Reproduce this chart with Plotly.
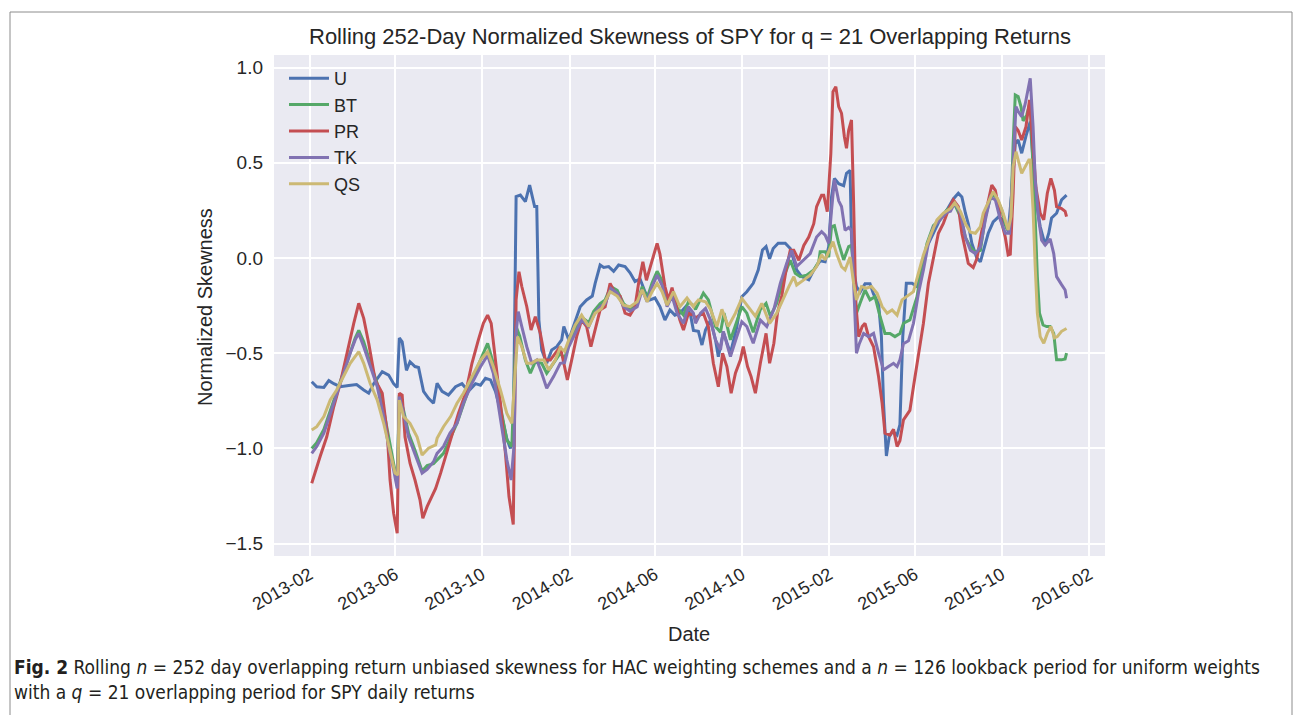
import pandas as pd
import plotly.graph_objects as go

BASE_DATE = "2013-02-01"
series_names = ["U", "BT", "PR", "TK", "QS"]

# day offsets from BASE_DATE and normalized skewness values
U_days = [3,10,20,27,34,43,55,66,76,83,90,102,111,118,123,126,130,136,141,148,153,160,167,174,179,186,195,205,214,223,233,240,247,254,261,268,277,282,286,290,296,303,309,312,316,319,322,326,333,340,347,354,357,364,373,380,389,397,401,408,413,420,427,434,443,450,457,464,471,478,485,492,499,506,513,520,528,535,539,546,551,556,563,570,574,581,591,600,607,614,623,630,636,641,646,651,658,668,675,684,691,701,708,717,724,729,733,737,743,750,754,759,761,764,768,773,780,787,792,799,803,806,810,814,819,825,829,833,838,846,853,860,867,876,885,895,904,911,916,921,925,930,937,942,946,953,960,967,974,981,986,991,995,1000,1006,1012,1016,1020,1026,1033,1038,1042,1049,1056,1063]
U_vals = [-0.65,-0.676,-0.68,-0.644,-0.66,-0.676,-0.67,-0.665,-0.693,-0.71,-0.66,-0.597,-0.615,-0.66,-0.68,-0.42,-0.44,-0.59,-0.545,-0.57,-0.575,-0.70,-0.737,-0.763,-0.658,-0.70,-0.72,-0.676,-0.66,-0.70,-0.66,-0.668,-0.632,-0.64,-0.70,-0.80,-0.95,-1.0,-0.95,0.322,0.33,0.296,0.383,0.34,0.27,0.27,-0.326,-0.483,-0.553,-0.483,-0.466,-0.43,-0.36,-0.43,-0.326,-0.256,-0.22,-0.20,-0.133,-0.037,-0.05,-0.045,-0.07,-0.037,-0.045,-0.078,-0.124,-0.11,-0.177,-0.22,-0.21,-0.256,-0.326,-0.273,-0.30,-0.29,-0.256,-0.30,-0.38,-0.385,-0.457,-0.378,-0.326,-0.43,-0.518,-0.39,-0.50,-0.361,-0.203,-0.177,-0.133,-0.063,0.042,0.06,-0.004,0.05,0.077,0.077,0.05,-0.063,-0.098,-0.115,-0.063,-0.015,-0.02,0.06,0.322,0.418,0.39,0.38,0.445,0.46,0.11,-0.063,-0.15,-0.18,-0.135,-0.135,-0.19,-0.238,-0.413,-0.763,-1.04,-0.938,-0.91,-0.93,-0.875,-0.413,-0.133,-0.133,-0.15,-0.063,0.06,0.13,0.2,0.252,0.31,0.34,0.32,0.235,0.18,0.077,0.0,-0.02,0.04,0.13,0.19,0.215,0.2,0.14,0.34,0.60,0.62,0.55,0.64,0.716,0.51,0.305,0.165,0.068,0.13,0.21,0.235,0.305,0.33]

BT_days = [3,10,20,29,38,48,57,64,69,76,85,95,104,111,118,123,126,132,139,148,158,165,174,188,207,228,240,250,258,268,277,284,290,295,303,310,317,326,333,343,352,358,364,373,382,392,399,408,415,423,432,441,450,460,467,474,481,488,495,502,509,516,525,532,539,542,546,553,560,570,577,582,591,600,607,614,623,633,641,647,656,666,675,682,689,698,708,715,717,724,729,733,737,743,750,757,761,764,768,773,780,787,794,801,808,815,822,829,834,843,853,860,867,876,885,895,900,906,914,921,928,935,942,949,958,965,972,979,984,988,991,995,999,1002,1007,1012,1016,1019,1022,1025,1030,1035,1040,1045,1049,1056,1061,1063]
BT_vals = [-1.00,-0.97,-0.90,-0.80,-0.70,-0.60,-0.49,-0.42,-0.38,-0.44,-0.55,-0.66,-0.80,-0.95,-1.08,-1.17,-0.72,-0.80,-0.92,-1.01,-1.12,-1.09,-1.08,-1.026,-0.868,-0.64,-0.536,-0.448,-0.553,-0.78,-0.956,-0.99,-0.36,-0.41,-0.536,-0.605,-0.545,-0.553,-0.605,-0.553,-0.50,-0.53,-0.45,-0.38,-0.31,-0.34,-0.28,-0.24,-0.22,-0.15,-0.17,-0.24,-0.27,-0.24,-0.15,-0.21,-0.13,-0.07,-0.12,-0.23,-0.18,-0.26,-0.30,-0.23,-0.25,-0.27,-0.238,-0.185,-0.22,-0.36,-0.39,-0.29,-0.43,-0.326,-0.256,-0.29,-0.39,-0.27,-0.238,-0.305,-0.238,-0.098,-0.012,-0.08,-0.098,-0.09,-0.063,-0.02,0.033,0.033,0.005,0.165,0.17,0.077,-0.01,0.06,0.067,-0.063,-0.29,-0.238,-0.168,-0.22,-0.203,-0.305,-0.396,-0.396,-0.413,-0.396,-0.343,-0.325,-0.203,-0.046,0.077,0.17,0.2,0.252,0.27,0.28,0.217,0.108,0.058,0.03,0.04,0.217,0.34,0.315,0.252,0.156,0.147,0.6,0.856,0.848,0.795,0.72,0.75,0.82,0.5,0.2,-0.098,-0.29,-0.352,-0.36,-0.36,-0.396,-0.535,-0.535,-0.53,-0.5]

PR_days = [3,8,15,24,34,43,52,62,69,76,83,92,102,109,113,118,123,126,130,134,141,148,155,159,165,174,177,184,191,200,209,219,228,237,244,250,255,261,268,275,280,286,290,294,298,305,311,317,324,331,338,347,352,357,362,368,375,382,389,395,401,408,415,422,429,436,443,450,457,462,468,473,477,483,488,492,499,504,509,515,520,525,532,539,542,546,553,560,567,574,580,586,592,598,605,609,615,620,626,633,641,646,652,657,663,670,675,680,687,694,701,708,712,719,722,727,732,735,739,743,747,751,754,757,761,764,767,771,776,780,785,792,799,804,808,815,820,825,829,834,843,848,855,862,869,876,883,890,897,904,911,916,921,925,932,937,944,951,958,963,970,977,981,984,988,991,995,1000,1006,1011,1016,1020,1026,1031,1036,1041,1046,1049,1056,1061,1063]
PR_vals = [-1.183,-1.12,-1.04,-0.94,-0.78,-0.658,-0.50,-0.343,-0.238,-0.317,-0.448,-0.64,-0.71,-0.92,-1.166,-1.34,-1.446,-0.71,-0.72,-0.94,-1.078,-1.166,-1.27,-1.367,-1.306,-1.236,-1.21,-1.13,-1.043,-0.94,-0.816,-0.71,-0.553,-0.43,-0.343,-0.30,-0.343,-0.536,-0.763,-1.026,-1.253,-1.40,-0.22,-0.072,-0.15,-0.256,-0.378,-0.308,-0.396,-0.536,-0.536,-0.49,-0.466,-0.553,-0.64,-0.536,-0.413,-0.326,-0.36,-0.466,-0.378,-0.273,-0.256,-0.133,-0.185,-0.20,-0.29,-0.30,-0.256,-0.133,-0.02,-0.117,-0.065,0.007,0.077,0.02,-0.15,-0.22,-0.156,-0.256,-0.326,-0.378,-0.29,-0.30,-0.316,-0.305,-0.29,-0.361,-0.553,-0.676,-0.50,-0.57,-0.71,-0.605,-0.535,-0.465,-0.57,-0.623,-0.71,-0.553,-0.396,-0.553,-0.448,-0.29,-0.20,-0.045,0.04,0.04,-0.012,0.066,0.11,0.18,0.27,0.33,0.33,0.243,0.55,0.873,0.90,0.795,0.76,0.637,0.576,0.67,0.725,0.287,-0.238,-0.413,-0.36,-0.343,-0.413,-0.466,-0.623,-0.763,-0.92,-0.93,-0.90,-0.99,-0.96,-0.85,-0.80,-0.676,-0.518,-0.343,-0.133,0.007,0.13,0.182,0.252,0.305,0.27,0.13,0.04,-0.028,-0.05,-0.005,0.143,0.27,0.383,0.355,0.215,0.108,0.016,0.02,0.34,0.69,0.67,0.62,0.69,0.83,0.56,0.37,0.235,0.2,0.34,0.418,0.355,0.27,0.26,0.245,0.217]

TK_days = [3,10,20,29,38,48,57,64,69,76,85,95,104,111,118,123,126,132,139,148,158,165,174,179,188,197,207,216,228,240,250,258,268,277,283,287,290,293,298,305,312,319,326,333,343,352,358,364,373,382,392,399,408,415,423,432,441,450,460,467,474,481,488,495,502,509,516,525,532,539,542,549,556,563,570,577,581,591,600,607,614,623,633,642,652,661,670,677,684,694,703,712,719,724,729,733,737,743,747,752,757,761,764,768,772,778,785,792,799,806,813,820,825,829,834,841,848,855,862,869,876,885,895,900,906,914,921,928,935,942,949,956,963,970,977,983,988,992,995,1000,1005,1010,1012,1016,1019,1024,1028,1033,1040,1045,1049,1056,1061,1063]
TK_vals = [-1.026,-0.99,-0.92,-0.816,-0.71,-0.606,-0.50,-0.43,-0.396,-0.466,-0.57,-0.676,-0.833,-0.99,-1.113,-1.21,-0.728,-0.816,-0.94,-1.026,-1.13,-1.11,-1.07,-1.026,-0.99,-0.92,-0.868,-0.763,-0.658,-0.571,-0.51,-0.605,-0.833,-1.06,-1.166,-0.99,-0.396,-0.282,-0.36,-0.466,-0.553,-0.536,-0.605,-0.684,-0.62,-0.553,-0.55,-0.466,-0.396,-0.326,-0.36,-0.30,-0.256,-0.24,-0.16,-0.185,-0.256,-0.28,-0.256,-0.167,-0.23,-0.15,-0.09,-0.143,-0.256,-0.20,-0.29,-0.343,-0.256,-0.29,-0.343,-0.29,-0.265,-0.326,-0.43,-0.483,-0.385,-0.518,-0.413,-0.335,-0.36,-0.448,-0.326,-0.36,-0.27,-0.133,-0.028,0.04,-0.045,-0.012,0.023,0.11,0.138,0.12,0.077,0.252,0.41,0.30,0.27,0.145,0.16,0.145,-0.098,-0.50,-0.45,-0.396,-0.413,-0.396,-0.50,-0.588,-0.57,-0.553,-0.57,-0.535,-0.45,-0.435,-0.343,-0.185,-0.063,0.077,0.163,0.2,0.24,0.245,0.29,0.235,0.108,0.04,0.023,0.058,0.2,0.32,0.305,0.2,0.13,0.13,0.515,0.795,0.77,0.742,0.81,0.918,0.944,0.69,0.41,0.2,0.093,0.068,0.1,0.023,-0.098,-0.14,-0.168,-0.212]

QS_days = [3,10,20,29,38,48,57,69,76,85,95,104,113,120,124,126,132,141,151,158,167,177,179,188,198,207,216,228,240,250,258,268,277,284,287,292,298,305,312,319,329,336,345,352,358,364,373,382,392,401,410,422,432,441,450,460,467,474,481,488,495,502,511,520,530,539,542,546,556,563,572,579,588,598,607,616,626,635,646,656,666,673,680,684,694,703,712,719,724,729,735,740,747,752,759,764,768,775,782,789,797,804,811,818,825,832,839,848,855,862,871,881,890,900,906,914,921,928,935,942,946,953,960,967,974,981,985,988,992,995,1000,1005,1010,1012,1016,1019,1022,1026,1031,1036,1041,1046,1050,1056,1063]
QS_vals = [-0.903,-0.886,-0.833,-0.746,-0.693,-0.623,-0.553,-0.492,-0.553,-0.658,-0.746,-0.868,-1.008,-1.13,-1.14,-0.746,-0.833,-0.868,-0.94,-1.035,-0.999,-0.982,-0.947,-0.886,-0.833,-0.763,-0.71,-0.623,-0.536,-0.492,-0.571,-0.693,-0.816,-0.868,-0.71,-0.413,-0.466,-0.553,-0.553,-0.536,-0.536,-0.588,-0.536,-0.47,-0.49,-0.43,-0.352,-0.30,-0.36,-0.29,-0.265,-0.177,-0.20,-0.248,-0.256,-0.23,-0.167,-0.23,-0.177,-0.133,-0.177,-0.248,-0.177,-0.256,-0.21,-0.256,-0.238,-0.22,-0.23,-0.27,-0.36,-0.27,-0.36,-0.29,-0.212,-0.256,-0.305,-0.238,-0.343,-0.29,-0.203,-0.15,-0.098,-0.142,-0.115,-0.09,-0.045,0.016,-0.01,0.03,0.086,0.023,-0.046,-0.063,0.005,-0.133,-0.22,-0.15,-0.158,-0.15,-0.185,-0.255,-0.29,-0.273,-0.30,-0.22,-0.2,-0.177,-0.08,0.016,0.11,0.2,0.235,0.26,0.29,0.245,0.18,0.136,0.13,0.165,0.235,0.29,0.348,0.305,0.235,0.147,0.217,0.48,0.558,0.515,0.445,0.48,0.515,0.515,0.252,-0.046,-0.29,-0.413,-0.448,-0.396,-0.36,-0.42,-0.413,-0.385,-0.37]

tick_dates = ["2013-02-01","2013-06-01","2013-10-01","2014-02-01","2014-06-01","2014-10-01",
              "2015-02-01","2015-06-01","2015-10-01","2016-02-01"]
tick_labels = ["2013-02","2013-06","2013-10","2014-02","2014-06","2014-10",
               "2015-02","2015-06","2015-10","2016-02"]
y_ticks = [-1.5, -1.0, -0.5, 0.0, 0.5, 1.0]
y_tick_labels = ["\u22121.5", "\u22121.0", "\u22120.5", "0.0", "0.5", "1.0"]

colors = {"U": "#4C72B0", "BT": "#55A868", "PR": "#C44E52", "TK": "#8172B2", "QS": "#CCB974"}
data = {"U": (U_days, U_vals), "BT": (BT_days, BT_vals), "PR": (PR_days, PR_vals),
        "TK": (TK_days, TK_vals), "QS": (QS_days, QS_vals)}

base = pd.Timestamp(BASE_DATE)
fig = go.Figure()
for name in series_names:
    days, vals = data[name]
    dates = base + pd.to_timedelta(days, unit="D")
    fig.add_trace(go.Scatter(x=dates, y=vals, mode="lines", name=name,
                             line=dict(color=colors[name], width=3)))

W, H = 1295, 715
L, R, T, B = 274, 1105, 55, 556
pw, ph = R - L, B - T
def px(x):
    return (x - L) / pw
def py(y):
    return (B - y) / ph

TXT = "#262626"
FONT = "Liberation Sans, Arial, sans-serif"
CAP_FONT = "Liberation Sans Narrow, DejaVu Sans Condensed, sans-serif"

fig.update_layout(
    width=W, height=H,
    margin=dict(l=L, r=W - R, t=T, b=H - B, autoexpand=False),
    paper_bgcolor="white", plot_bgcolor="#EAEAF2",
    font=dict(family=FONT, color=TXT, size=19),
    showlegend=True,
    legend=dict(x=px(284), y=py(60), xanchor="left", yanchor="top",
                bgcolor="rgba(0,0,0,0)", font=dict(size=18, family=FONT, color=TXT),
                itemwidth=40, tracegroupgap=0),
    xaxis=dict(range=["2012-12-13", "2016-02-23"], tickvals=tick_dates, ticktext=tick_labels,
               tickangle=-30, showgrid=True, gridcolor="white", gridwidth=1.6,
               zeroline=False, showline=False, ticks="", tickfont=dict(size=18),
               ticklabelstandoff=4),
    yaxis=dict(range=[-1.565, 1.066], tickvals=y_ticks, ticktext=y_tick_labels,
               showgrid=True, gridcolor="white", gridwidth=1.6, zeroline=False,
               showline=False, ticks="", tickfont=dict(size=19), ticklabelstandoff=10),
    hovermode=False,
)

annotations = [
    dict(text="Rolling 252-Day Normalized Skewness of SPY for q = 21 Overlapping Returns",
         x=0.5, y=py(37), xref="paper", yref="paper", showarrow=False,
         xanchor="center", yanchor="middle", font=dict(size=22, family=FONT, color=TXT)),
    dict(text="Date", x=px(689), y=py(634), xref="paper", yref="paper", showarrow=False,
         xanchor="center", yanchor="middle", font=dict(size=20, family=FONT, color=TXT)),
    dict(text="Normalized Skewness", x=px(205), y=py(307), xref="paper", yref="paper",
         showarrow=False, textangle=-90, xanchor="center", yanchor="middle",
         font=dict(size=20, family=FONT, color=TXT)),
    dict(text="<b>Fig. 2</b> Rolling <i>n</i> = 252 day overlapping return unbiased skewness for HAC weighting schemes and a <i>n</i> = 126 lookback period for uniform weights",
         x=px(12), y=py(667), xref="paper", yref="paper", showarrow=False,
         xanchor="left", yanchor="middle",
         font=dict(size=19, family=CAP_FONT, color="#231F20")),
    dict(text="with a <i>q</i> = 21 overlapping period for SPY daily returns",
         x=px(12), y=py(692), xref="paper", yref="paper", showarrow=False,
         xanchor="left", yanchor="middle",
         font=dict(size=19, family=CAP_FONT, color="#231F20")),
]
fig.update_layout(annotations=annotations)

fig.add_shape(type="rect", xref="paper", yref="paper",
              x0=px(10), x1=px(1292), y0=py(725), y1=py(12),
              line=dict(color="#8C8C8C", width=1), fillcolor="rgba(0,0,0,0)", layer="below")

fig.write_html("out.html", config={"displayModeBar": False},
               post_script="document.body.style.margin='0px';")
